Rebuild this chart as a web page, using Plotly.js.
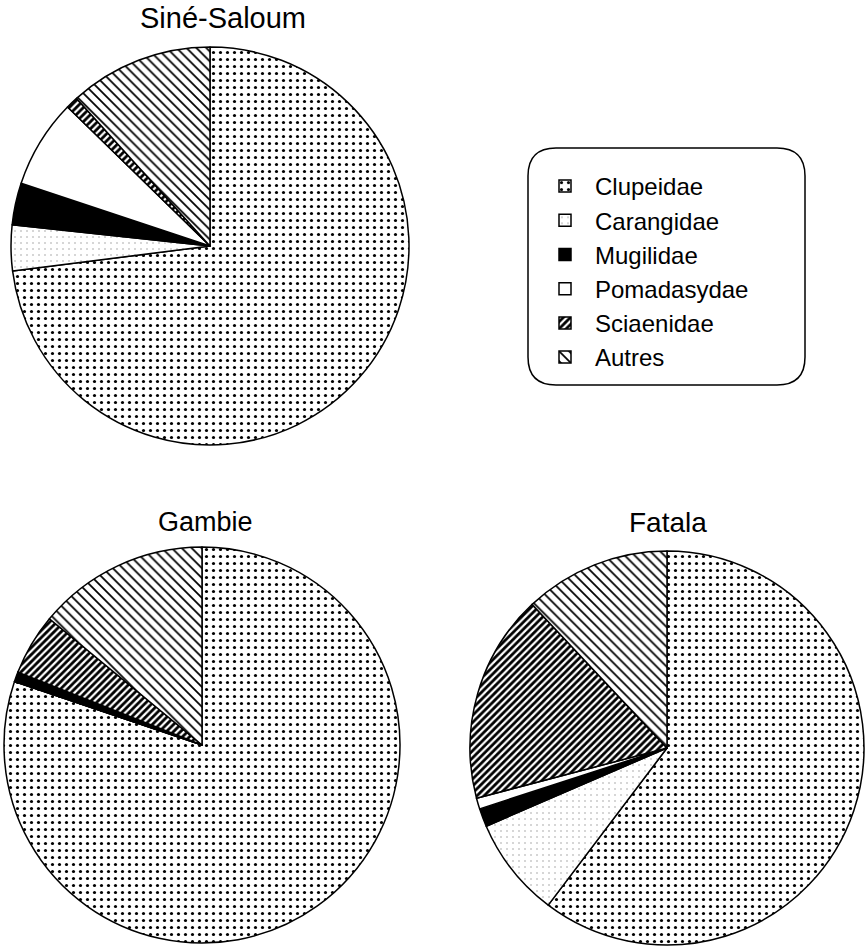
<!DOCTYPE html>
<html><head><meta charset="utf-8">
<script src="https://cdn.plot.ly/plotly-3.0.1.min.js"></script>
<style>html,body{margin:0;padding:0;background:#fff}</style>
</head><body><div id="chart" style="width:865px;height:950px"></div>
<script>
// Categories and values (percent of catch)
const families = ['Clupeidae', 'Carangidae', 'Mugilidae', 'Pomadasydae', 'Sciaenidae', 'Autres'];
const estuaries = ['Siné-Saloum', 'Gambie', 'Fatala'];
const sineSaloum = [73.0, 3.7, 3.4, 7.2, 1.0, 11.7];
const gambie = [80.2, 0, 0.8, 0, 5.0, 14.0];
const fatala = [60.3, 8.2, 1.5, 0.9, 17.1, 12.0];

const W = 865, H = 950;
const fills = ['#ffffff', '#ffffff', '#000000', '#ffffff', '#ffffff', '#ffffff'];
const pattern = {
  shape: ['.', '.', '', '', '/', '\\'],
  fgcolor: ['#000000', '#9a9a9a', '#000000', '#000000', '#000000', '#000000'],
  bgcolor: fills,
  size: [7, 6, 8, 8, 5, 7],
  solidity: [0.16, 0.05, 0.3, 0.3, 0.55, 0.25],
  fillmode: 'replace'
};

function dom(cx, cy, r) {
  return { x: [(cx - r) / W, (cx + r) / W], y: [(H - (cy + r)) / H, (H - (cy - r)) / H] };
}
const geo = [
  { cx: 210, cy: 246, r: 199, tx: 223, ty: 18, fs: 29 },
  { cx: 202, cy: 745, r: 198, tx: 205, ty: 522, fs: 27 },
  { cx: 667, cy: 748, r: 197, tx: 668, ty: 522, fs: 28 }
];
const series = [sineSaloum, gambie, fatala];

const data = series.map((vals, i) => ({
  type: 'pie',
  name: estuaries[i],
  labels: families,
  values: vals,
  sort: false,
  direction: 'clockwise',
  rotation: 0,
  textinfo: 'none',
  hoverinfo: 'label+percent',
  domain: dom(geo[i].cx, geo[i].cy, geo[i].r),
  marker: { colors: fills, line: { color: '#000', width: 1.5 }, pattern: pattern },
  showlegend: i === 0
}));

const bx0 = 528, bx1 = 805, by0 = 148, by1 = 385, rr = 28;
function px(x) { return x / W; }
function py(y) { return 1 - y / H; }
const boxPath = `M ${px(bx0 + rr)} ${py(by0)} L ${px(bx1 - rr)} ${py(by0)} Q ${px(bx1)} ${py(by0)} ${px(bx1)} ${py(by0 + rr)} ` +
  `L ${px(bx1)} ${py(by1 - rr)} Q ${px(bx1)} ${py(by1)} ${px(bx1 - rr)} ${py(by1)} ` +
  `L ${px(bx0 + rr)} ${py(by1)} Q ${px(bx0)} ${py(by1)} ${px(bx0)} ${py(by1 - rr)} ` +
  `L ${px(bx0)} ${py(by0 + rr)} Q ${px(bx0)} ${py(by0)} ${px(bx0 + rr)} ${py(by0)} Z`;

const layout = {
  width: W, height: H,
  margin: { l: 0, r: 0, t: 0, b: 0 },
  paper_bgcolor: '#fff',
  font: { family: 'Liberation Sans, Arial, sans-serif', color: '#000' },
  showlegend: true,
  legend: {
    x: px(535), y: py(164), xanchor: 'left', yanchor: 'top',
    bgcolor: 'rgba(0,0,0,0)', borderwidth: 0,
    itemwidth: 50,
    font: { size: 24, color: '#000' }
  },
  shapes: [{ type: 'path', xref: 'paper', yref: 'paper', path: boxPath, line: { color: '#000', width: 1.5 }, layer: 'below' }],
  annotations: geo.map((g, i) => ({
    text: estuaries[i], xref: 'paper', yref: 'paper', x: px(g.tx), y: py(g.ty),
    xanchor: 'center', yanchor: 'middle', showarrow: false,
    font: { size: g.fs, color: '#000' }
  }))
};

Plotly.newPlot('chart', data, layout, { displayModeBar: false, staticPlot: true });
</script></body></html>
